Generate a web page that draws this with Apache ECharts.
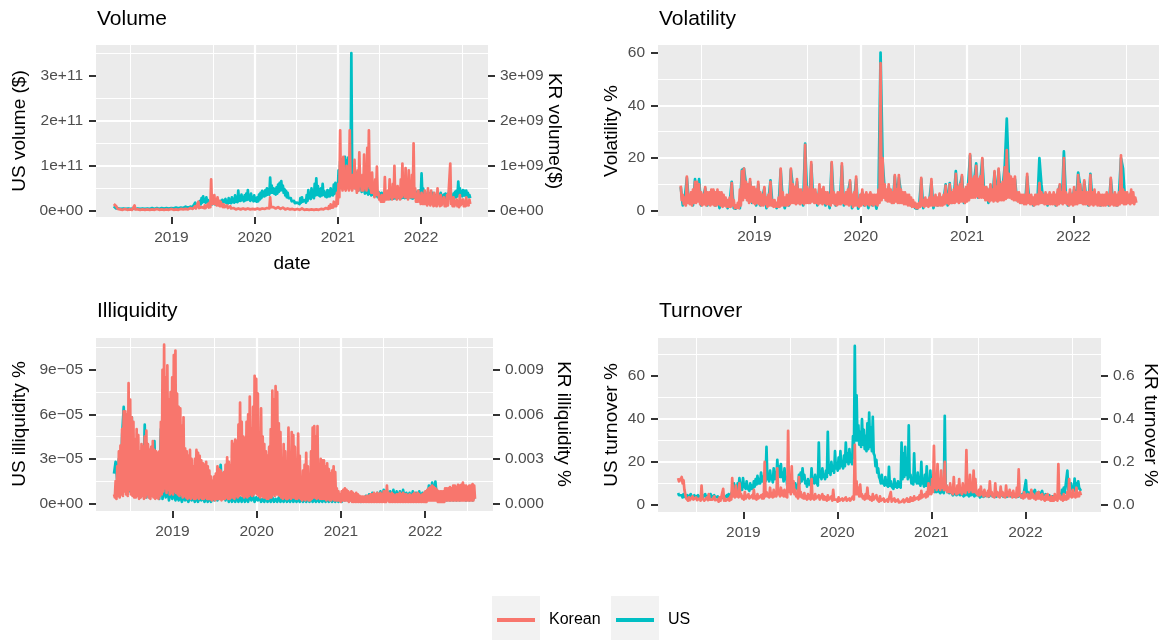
<!DOCTYPE html>
<html><head><meta charset="utf-8">
<script src="https://cdn.jsdelivr.net/npm/echarts@6/dist/echarts.min.js"></script>
<style>html,body{margin:0;padding:0;background:#fff}#c{width:1159px;height:640px}</style>
</head><body><div id="c"></div>
<script>
// ---- time grid: observations start on startDate; weekly (7 d) or half-weekly (3.5 d) ----
const startDate = '2018-04-23';
const weekStep = 7, halfWeekStep = 3.5;
const yearTicks = [2019, 2020, 2021, 2022];
const seriesNames = ['Korean', 'US'];

// ---- Volume ($ billions) : half-weekly ----
const usVolume_bn_half = [
10,8, 6,5, 5,4, 5,4, 5,4, 5,4, 5,4, 5,4, 5,4, 5,4, 5,4, 5,4, 5,4,
5,4, 5,4, 5,4, 5,4, 5,4, 5,4, 5,4, 5,4, 5,4, 5,4, 5,4, 6,4.5, 5,4,
5,4, 6,4.5, 5,4, 6,4.5, 6,4.5, 6,5, 6,4.5, 6,5, 6,5, 6,5, 6,5, 7,5.5, 7,5.5,
7,5.5, 7,5.5, 8,6, 7,5.5, 8,6, 8,6.5, 9,7, 8,6.5, 10,7, 9,7, 10,7.5, 12,8, 18,10,
14,10, 16,12, 22,14, 28,18, 32,20, 26,18, 30,18, 24,16, 20,14, 22,14, 18,13, 20,14, 22,15,
20,14, 18,13, 22,15, 24,17, 20,15, 26,17, 22,16, 28,18, 24,17, 30,19, 26,18, 34,20, 30,19,
45,22, 32,22, 36,24, 30,21, 34,23, 38,24, 46,25, 32,22, 38,24, 30,21, 34,22, 28,20, 30,21,
36,25, 40,28, 44,32, 42,32, 46,34, 50,36, 48,36, 74,40, 56,40, 50,38, 48,36, 52,38, 58,42,
62,45, 66,46, 56,40, 48,34, 44,30, 40,28, 32,24, 28,21, 24,18, 22,17, 20,15, 18,14, 20,15,
28,18, 30,20, 22,16, 24,18, 35,22, 46,28, 38,26, 50,30, 42,28, 60,34, 72,36, 55,34, 48,32,
50,34, 60,36, 44,32, 40,30, 46,32, 44,32, 50,35, 46,34, 58,38, 62,40, 60,42, 90,55, 110,70,
115,80, 108,78, 120,85, 112,80, 118,80, 105,75, 351,90, 90,60, 70,50, 85,55, 60,45, 75,50, 55,42,
60,44, 50,38, 55,40, 48,36, 52,38, 45,34, 50,36, 42,32, 45,34, 40,30, 42,32, 38,29, 40,30,
35,27, 40,29, 36,27, 38,28, 34,26, 40,29, 36,27, 38,28, 35,26, 40,29, 36,27, 38,28, 40,29,
38,28, 40,29, 36,27, 42,30, 38,28, 36,27, 40,29, 38,28, 42,30, 44,32, 46,33, 83,40, 50,34,
40,29, 36,27, 42,30, 38,28, 35,26, 40,28, 36,27, 34,25, 38,28, 36,26, 40,28, 34,25, 36,26,
38,27, 35,26, 40,28, 36,27, 34,25, 38,28, 42,30, 45,32, 65,38, 50,36, 44,32, 46,34, 44,33,
45,33, 40,30, 35,28];
const krVolume_bn_half = [
0.15,0.12, 0.16,0.10, 0.06,0.04, 0.03,0.02, 0.03,0.02, 0.03,0.02, 0.03,0.02, 0.04,0.02, 0.03,0.02, 0.03,0.02, 0.03,0.02, 0.03,0.02, 0.03,0.02,
0.12,0.03, 0.04,0.02, 0.03,0.02, 0.03,0.02, 0.04,0.02, 0.03,0.02, 0.03,0.02, 0.04,0.02, 0.03,0.02, 0.03,0.02, 0.04,0.02, 0.03,0.02, 0.03,0.02,
0.03,0.02, 0.04,0.02, 0.03,0.02, 0.05,0.02, 0.03,0.02, 0.04,0.02, 0.03,0.02, 0.03,0.02, 0.05,0.02, 0.03,0.02, 0.04,0.02, 0.03,0.02, 0.04,0.02,
0.03,0.02, 0.04,0.02, 0.05,0.03, 0.04,0.02, 0.04,0.03, 0.05,0.03, 0.04,0.03, 0.06,0.03, 0.05,0.03, 0.06,0.04, 0.08,0.04, 0.06,0.04, 0.10,0.05,
0.08,0.05, 0.20,0.06, 0.09,0.05, 0.08,0.05, 0.10,0.06, 0.12,0.06, 0.10,0.06, 0.15,0.07, 0.18,0.08, 0.70,0.15, 0.30,0.15, 0.35,0.15, 0.25,0.12,
0.30,0.12, 0.22,0.10, 0.20,0.10, 0.15,0.08, 0.14,0.08, 0.10,0.06, 0.12,0.06, 0.08,0.05, 0.10,0.05, 0.07,0.04, 0.06,0.04, 0.05,0.03, 0.06,0.03,
0.05,0.03, 0.06,0.03, 0.04,0.03, 0.05,0.03, 0.04,0.03, 0.06,0.03, 0.05,0.03, 0.04,0.03, 0.05,0.03, 0.04,0.03, 0.05,0.03, 0.04,0.03, 0.05,0.03,
0.05,0.03, 0.06,0.03, 0.05,0.03, 0.07,0.04, 0.08,0.04, 0.06,0.04, 0.10,0.05, 0.30,0.08, 0.12,0.06, 0.08,0.05, 0.10,0.05, 0.07,0.04, 0.08,0.04,
0.07,0.04, 0.06,0.04, 0.07,0.04, 0.05,0.03, 0.06,0.03, 0.05,0.03, 0.04,0.03, 0.05,0.03, 0.04,0.02, 0.04,0.02, 0.05,0.03, 0.04,0.02, 0.04,0.02,
0.04,0.02, 0.05,0.02, 0.04,0.02, 0.04,0.02, 0.03,0.02, 0.04,0.02, 0.04,0.02, 0.03,0.02, 0.04,0.02, 0.04,0.02, 0.03,0.02, 0.04,0.02, 0.04,0.02,
0.04,0.02, 0.05,0.03, 0.05,0.03, 0.06,0.03, 0.08,0.04, 0.10,0.05, 0.14,0.07, 0.12,0.07, 0.20,0.10, 0.16,0.10, 0.40,0.15, 0.60,0.30, 1.79,0.50,
0.60,0.45, 1.20,0.55, 0.55,0.45, 1.00,0.50, 0.70,0.45, 1.79,0.50, 0.60,0.45, 0.80,0.50, 1.13,0.50, 0.55,0.40, 0.90,0.45, 1.30,0.55, 0.70,0.45,
0.80,0.45, 1.25,0.50, 0.70,0.45, 1.40,0.55, 1.79,0.50, 0.60,0.40, 0.85,0.40, 0.50,0.30, 0.70,0.35, 0.98,0.35, 0.40,0.25, 0.30,0.20, 0.35,0.20,
0.30,0.20, 0.75,0.25, 0.40,0.25, 0.45,0.25, 0.70,0.30, 0.50,0.25, 0.60,0.30, 1.00,0.30, 0.45,0.25, 0.55,0.30, 0.50,0.25, 0.70,0.30, 1.05,0.35,
0.60,0.30, 0.95,0.30, 0.50,0.25, 0.90,0.30, 0.60,0.30, 0.80,0.30, 1.50,0.30, 0.50,0.20, 0.35,0.20, 0.45,0.20, 0.30,0.15, 0.40,0.15, 0.35,0.15,
0.45,0.15, 0.25,0.12, 0.50,0.15, 0.30,0.12, 0.45,0.15, 0.20,0.10, 0.40,0.12, 0.25,0.10, 0.50,0.15, 0.20,0.10, 0.35,0.12, 0.15,0.08, 0.30,0.10,
0.20,0.10, 0.35,0.12, 0.15,0.08, 1.05,0.15, 0.20,0.10, 0.30,0.10, 0.12,0.08, 0.25,0.10, 0.15,0.08, 0.35,0.12, 0.12,0.08, 0.25,0.10, 0.15,0.10,
0.30,0.12, 0.20,0.12, 0.25,0.15];

// ---- Volatility (%) : US weekly, Korean half-weekly ----
const usVolatility = [
9,2,5,12.5,3,6,2,12,4,12,2,5,8.5,
2,6,3,7.5,2,6,1,6,2,4,1,3,11,
1,0.8,2,1,15.5,16,10,4,11,3,8,2,10,
2,5,8.5,1,4,11.5,2,3,1,2,15.5,4,1,
4,2,15.5,9,5,11,3,7,2,25.5,5,3,17.5,
4,7,2,9,5,8,2,6,1,18,4,2,6,
3,17,2,5,7,11,1,4,12,0.8,3,7,2,
5,1,6,2,4,0.8,7,60,19,8,4,9,5,
3,13,5,12.5,7,4,6,3,5,2,3,1,0.8,
2,12,1,3,2,4,11,1,5,2,6,3,4,
10,2,10.5,3,5,15,4,9.5,13,3,6,9.5,21,
7,11.5,18,5,11,19.5,6,8.5,3,9.5,5,14.5,4,
15.5,7,9,17,35,13.5,11,5,12,4,6,3,5,
3,13,4,5,2,4,3,20,10,3,6,2,5,
4,6,2,7,9.5,3,22.5,5,2,7,3,8,4,
14.5,9.5,3,11,5,2,14,4,7,3,6,2,4,
3,6,2,12,4,5,2,6,20,16,4,6,3,
7,4,3];
const krVolatility_half = [
9.5,4, 6,2.5, 5,2, 13,3, 6,2.5, 7,2, 8,3, 11,3, 11,3.5, 10,2.5, 7,2, 6,2.5, 9,2,
7,2.5, 7,2, 8,2.5, 8,2, 7,2, 8,2.5, 7,2, 7,1.5, 6,2, 5,1.5, 4,1.5, 5,1.5, 10.5,2,
4,1, 2,1, 3,1, 8,2, 15,4, 16,5, 11,4, 10,3, 12,3.5, 9,3, 9,2.5, 8,3, 11,2.5,
7,2, 6,2, 9,2.5, 5,1.5, 6,2, 11,2, 4,1.5, 4,1.5, 3,1.5, 5,1.5, 16,2, 7,2, 5,2,
6,2, 6,2.5, 16,3, 10,3, 9,2.5, 12,3, 8,2.5, 8,3, 7,2.5, 25,3, 9,3, 8,3, 18.5,3.5,
8,3, 8,3, 6,2.5, 10,3, 8,2.5, 9,3, 7,2.5, 7,2.5, 6,2, 18.5,3, 7,2.5, 6,2, 7,2.5,
7,2.5, 18,3, 6,2.5, 7,2.5, 8,2, 11.5,2.5, 6,1.5, 7,2, 13,2, 4,1.5, 6,2, 8,2.5, 6,2,
7,2.5, 6,2, 7,2.5, 6,2, 6,2.5, 6,2, 8,3, 56,4, 20,5, 10,4, 8,3.5, 10,3.5, 8,3,
7,3, 13.5,3.5, 8,3, 13.5,3, 8,3, 7,2.5, 7,2.5, 6,2, 6,2, 5,1.5, 4,1.5, 3,1, 2.5,1,
3,1.5, 12.5,2, 4,1.5, 5,2, 4,1.5, 5,2, 12,2, 5,2, 6,2, 5,2, 6.5,2, 5,2, 6,2.5,
9.5,3, 6,2.5, 10,3, 7,3, 8,3, 14,3.5, 9,3, 10,3.5, 13.5,3.5, 8,3, 9,3.5, 10,4, 21.5,5,
12,5, 13,5, 17,5.5, 12,5, 13,5, 20,5, 9,4, 9,4, 8,3.5, 10,4, 8,3.5, 15,4, 9,3.5,
16,4, 10,4, 11,4, 16.5,4.5, 23,5, 14,5, 13,4.5, 12,4, 13,4, 7,3.5, 7,3, 6,3, 6,2.5,
6,2.5, 14,3, 6,2.5, 6,2.5, 5,2, 6,2.5, 6,2.5, 10.5,3, 7,3, 6,2.5, 7,2.5, 6,2.5, 7,2.5,
6,2.5, 7,2.5, 6,2, 8,2.5, 10,3, 7,2.5, 20,3, 7,2.5, 6,2, 8,2.5, 6,2, 9,2.5, 7,2.5,
13.5,3, 10,3, 7,2.5, 11.5,2.5, 7,2.5, 7,2, 13.5,2.5, 7,2, 8,2.5, 6,2, 7,2, 6,2, 6,2,
6,2, 7,2.5, 6,2, 12.5,2.5, 6,2, 7,2, 6,2, 7,2.5, 21,3, 8,2.5, 7,2.5, 7,3, 6,2.5,
8,3, 7,2.5, 5,3];

// ---- Illiquidity : US weekly in 1e-5 %, Korean half-weekly in 1e-3 % ----
const usIlliq_e5 = [
2.0,2.8,1.5,3.0,1.0,4.5,6.5,6.6,1.0,5.0,0.8,5.8,0.6,
3.0,0.5,3.5,0.4,3.0,0.5,5.3,0.4,2.5,0.4,3.0,0.5,4.2,
0.4,2.5,0.3,5.0,0.3,1.2,0.4,1.0,0.2,1.0,0.3,0.8,0.2,
0.6,0.2,0.5,0.1,0.5,0.2,0.4,0.1,0.5,0.2,0.4,0.1,0.5,
0.1,0.4,0.2,0.4,0.1,0.5,0.1,0.4,0.1,0.5,0.2,1.2,0.2,
1.5,2.6,0.3,1.0,0.2,0.8,0.1,0.5,0.1,0.4,0.1,0.5,0.1,
0.4,0.1,0.5,0.1,0.4,0.1,0.6,0.2,0.5,0.1,0.4,0.2,0.4,
0.1,0.3,0.1,0.4,0.1,0.3,0.1,0.4,0.1,0.3,0.1,0.4,0.1,
0.3,0.1,0.4,0.1,0.3,0.1,0.4,0.1,0.3,0.1,0.3,0.1,0.3,
0.1,0.3,0.1,0.4,0.1,0.3,0.1,0.3,0.1,0.3,0.1,0.3,0.1,
0.3,0.1,0.3,0.1,0.3,0.1,0.3,0.1,0.3,0.1,0.4,0.1,0.5,
0.2,0.6,0.2,0.6,0.2,0.5,0.2,0.5,0.2,0.4,0.1,0.4,0.2,
0.5,0.2,0.6,0.2,0.7,0.8,0.3,0.7,0.3,0.8,0.3,0.9,0.3,
0.9,0.3,0.8,0.3,0.9,0.3,0.8,0.3,0.8,0.3,0.9,0.3,0.7,
0.3,0.7,0.2,0.8,0.3,0.7,0.2,0.8,0.3,0.7,0.3,0.8,0.3,
1.2,0.4,1.4,0.4,1.46,0.3,0.6,0.2,0.6,0.2,0.7,0.2,0.7,
0.2,0.8,0.2,0.9,0.2,0.8,0.2,0.9,0.3,1.0,0.2,0.9,0.2,
0.8,0.2,0.4];
const krIlliq_e3_half = [
0.6,0.4, 1.5,0.3, 2.5,0.5, 3.5,0.4, 3.9,0.6, 5.0,0.5, 6.2,0.8, 6.2,0.6, 6.0,0.5, 8.1,0.9, 7.0,0.6, 5.8,0.5, 5.5,0.4,
4.3,0.4, 5.0,0.5, 4.6,0.3, 3.5,0.4, 4.0,0.5, 3.8,0.3, 4.5,0.4, 4.9,0.6, 4.0,0.4, 3.6,0.3, 3.8,0.5, 4.2,0.4, 3.6,0.3,
3.5,0.4, 3.4,0.3, 3.5,0.5, 5.5,0.6, 9.0,0.8, 10.7,1.0, 8.5,0.7, 9.3,0.9, 7.0,0.6, 7.5,0.7, 8.5,0.6, 10.0,0.8, 10.3,0.7,
7.4,0.6, 6.5,0.5, 6.4,0.6, 5.2,0.4, 5.8,0.5, 3.7,0.4, 3.5,0.3, 3.2,0.4, 3.6,0.3, 3.0,0.4, 2.5,0.3, 3.0,0.3, 3.6,0.4,
3.4,0.3, 3.2,0.4, 2.9,0.3, 2.7,0.3, 2.6,0.4, 2.8,0.3, 2.5,0.3, 2.2,0.3, 1.8,0.2, 1.5,0.3, 1.8,0.2, 2.0,0.3, 2.5,0.3,
2.3,0.3, 2.2,0.2, 2.0,0.3, 2.1,0.3, 2.6,0.4, 3.1,0.3, 2.8,0.3, 2.6,0.4, 4.2,0.4, 4.0,0.3, 4.3,0.5, 4.2,0.4, 5.3,0.5,
6.8,0.6, 5.5,0.5, 4.5,0.4, 4.4,0.5, 5.5,0.4, 6.0,0.5, 7.2,0.6, 5.0,0.5, 6.5,0.6, 8.6,0.7, 8.4,0.6, 7.4,0.5, 4.4,0.4,
6.4,0.5, 4.5,0.4, 4.0,0.4, 3.5,0.3, 3.2,0.3, 3.8,0.4, 5.0,0.4, 7.6,0.6, 7.0,0.5, 7.9,0.6, 7.5,0.6, 5.4,0.5, 4.8,0.4,
3.0,0.3, 4.0,0.4, 3.5,0.3, 2.0,0.3, 5.1,0.4, 3.2,0.3, 4.8,0.4, 4.6,0.4, 3.8,0.3, 3.0,0.3, 4.7,0.4, 3.2,0.3, 1.5,0.2,
2.2,0.3, 2.6,0.2, 3.4,0.3, 2.5,0.2, 1.6,0.2, 3.5,0.3, 5.1,0.4, 5.2,0.4, 4.5,0.3, 5.2,0.4, 2.6,0.3, 3.0,0.3, 2.9,0.3,
2.9,0.3, 2.5,0.2, 2.7,0.3, 2.3,0.2, 2.0,0.2, 2.2,0.3, 2.5,0.2, 2.1,0.2, 1.0,0.2, 0.8,0.2, 0.6,0.1, 0.8,0.2, 0.9,0.2,
1.0,0.2, 0.9,0.2, 0.8,0.1, 0.7,0.2, 0.8,0.1, 0.7,0.1, 0.6,0.1, 0.7,0.1, 0.6,0.1, 0.5,0.1, 0.45,0.1, 0.45,0.1, 0.45,0.1,
0.45,0.1, 0.5,0.1, 0.5,0.1, 0.6,0.1, 0.6,0.1, 0.7,0.1, 0.6,0.1, 0.7,0.1, 0.6,0.1, 0.7,0.1, 0.6,0.1, 0.8,0.1, 0.8,0.1,
1.2,0.2, 0.7,0.1, 0.6,0.1, 0.7,0.1, 0.6,0.1, 0.5,0.1, 0.6,0.1, 0.6,0.1, 0.7,0.1, 0.6,0.1, 0.7,0.1, 0.6,0.1, 0.6,0.1,
0.5,0.1, 0.6,0.1, 0.5,0.1, 0.6,0.1, 0.7,0.1, 0.6,0.1, 0.7,0.1, 0.6,0.1, 0.5,0.1, 0.6,0.1, 0.7,0.1, 0.8,0.1, 0.9,0.2,
1.0,0.2, 1.1,0.2, 1.2,0.2, 1.1,0.2, 1.0,0.2, 0.9,0.1, 0.8,0.1, 0.8,0.1, 0.8,0.1, 0.8,0.1, 1.0,0.2, 1.0,0.2, 1.0,0.2,
1.1,0.2, 1.0,0.2, 1.2,0.2, 1.2,0.2, 1.1,0.2, 1.25,0.2, 1.2,0.2, 1.25,0.2, 1.4,0.2, 1.2,0.2, 1.2,0.2, 1.1,0.2, 1.2,0.2,
1.2,0.2, 1.3,0.2, 1.2,0.3];

// ---- Turnover : US half-weekly in %, Korean half-weekly in 1e-2 % ----
const usTurnover_half = [
5.5,4.5, 5,3.8, 4.5,3.5, 5,3.8, 4,3.2, 4.5,3.4, 4,3.2, 5,3.6, 4,3.2, 4.5,3.4, 3.5,2.8, 4.5,3.3, 4,3.2,
4.5,3.4, 4,3.2, 5,3.6, 4,3.2, 4.5,3.4, 5,3.6, 4,3.1, 4.5,3.3, 3.5,2.8, 4,3, 3.5,2.6, 3,2.4, 4,3,
3.5,2.8, 4.5,3.4, 5,3.8, 4.5,4, 6,5, 10,7, 8,6.5, 10,7.5, 12.5,9, 9,7, 12.5,9, 9,7.5, 11,8,
8,6.5, 10,7.5, 9,7.5, 11,8.5, 12,9.5, 13.5,10, 12,10, 15,11, 13,10.5, 14,11, 27,12, 14,11, 16,12,
13,10.5, 17,12, 15,12, 21,14, 18,13, 19,13, 15,11, 17,12, 13,9, 12,8, 9,6.5, 10,7, 8.5,6.5,
10,7.5, 9,7, 14,10, 15,11, 17,12, 14,10, 11,8.5, 12,9.5, 11,9, 17,11, 12,10, 14,11, 11,9,
29,13, 15,12, 17,13, 14,12, 16,13, 34,15, 17,14, 20,16, 18,15, 25,17, 19,16, 22,17, 25,18,
20,17, 23,18, 29,20, 24,19, 26,20, 23,19, 32,22, 74,30, 51,30, 37,28, 34,27, 40,28, 35,26,
32,25, 38,26, 43,27, 36,25, 41,24, 23,18, 21,15, 17,13, 12,10, 14,10, 11,9, 13,9.5, 10,8.5,
17.7,9, 11,8.5, 9,7.5, 12,8.5, 10,8, 11,8.5, 9.5,8, 29,12, 24,13, 27,14, 20,12, 37,13, 14,10,
12,9.5, 24,11, 13,10, 15,10, 12,9, 20,10, 11,8.5, 14,9, 18,9, 10,7.5, 16,8, 9,6.5, 8,6,
8,6, 9,6.5, 7,5.5, 8,6, 7,5.5, 41.5,7, 9,6, 7,5.5, 8,6, 6,4.5, 7,5, 6,4.5, 7,5,
6,4.5, 7,5, 5,4, 6,4.5, 7,5, 5,4, 6,4.5, 8,5, 5,4, 6,4.5, 5,4, 4.5,3.5, 5.5,4,
5,3.8, 6,4.2, 4.5,3.5, 5,3.8, 4,3.2, 5.5,4, 4.5,3.5, 5,3.8, 4,3.2, 5.5,4, 4.5,3.5, 5,3.8, 4,3.2,
5,3.8, 4.5,3.5, 5.5,4, 4,3.2, 5,3.8, 4.5,3.5, 5,3.8, 4,3.2, 4.5,3.5, 5,3.8, 4,3.5, 11.5,5, 6,4.5,
5,4, 6.5,4.5, 5,4, 7,4.5, 5.5,4, 6,4.2, 5,3.8, 6.5,4.2, 4.5,3.5, 5,3.6, 4,3.2, 4.5,3.4, 3.5,2.8,
4,3, 3.5,2.8, 3.5,2.8, 4.5,3.4, 5,3.8, 7,5, 8,5.5, 6,5, 16,7, 9,7, 10,7.5, 8,6.5, 12.3,8,
10,7.5, 11,8, 8,6.5];
const krTurnover_e2_half = [
12.5,11, 11,12, 13,10, 11.5,7, 5,3, 3,2, 3.5,2.2, 2.5,2, 4,2.5, 3,2, 3.5,2.2, 2.5,1.8, 3,2,
9,3, 3,2, 2.5,1.8, 3.5,2.2, 5,2.5, 3,2, 2.5,1.8, 4,2.2, 3,2, 2.5,1.5, 3.5,2, 2.5,1.5, 7.5,2,
3,2, 2.5,1.5, 3,2, 4,2.5, 12.5,4, 5,3.5, 9,4, 6,3.5, 10,4, 5,3, 4,2.5, 6,3, 3.5,2.5,
5,3, 3.5,2.5, 4.5,3, 7,3, 4,2.5, 5,3, 3.5,2.5, 4.5,3, 5,3, 20,4, 6,4, 5,3.5, 8,4,
5.5,3.5, 7,4, 6,4, 17,5, 6,4, 8,4.5, 6.5,4, 7,4, 5.5,3.5, 34.5,6, 10,5, 18,6, 11,5,
7,4, 5,3, 13,4, 6,3.5, 4.5,3, 5.5,3, 4,2.5, 5,3, 4.5,2.5, 12,3, 4,2.5, 5,3, 3.5,2.5,
4.5,2.5, 3,2, 5,2.5, 4,2.5, 3.5,2, 4.5,2.5, 3,2, 4,2, 7,2.5, 3,2, 2.5,1.5, 3.5,2, 2.5,1.5,
3,2, 2.5,1.5, 3.5,2, 2,1.5, 3,2, 2.5,1.5, 4,2.5, 28,5, 11,5, 8,4, 9.5,4, 5,3, 4,2.5,
5,3, 8,3, 4,2.5, 3.5,2, 5,2.5, 3,2, 4.5,2.5, 2.5,1.5, 4,2, 2,1.2, 3,1.5, 2,1.2, 2.5,1.5,
2,1.2, 6,1.5, 2,1.2, 3,1.5, 1.5,1, 2.5,1.2, 2,1, 1.5,0.8, 2.5,1.2, 2,1.2, 3,1.5, 2.5,1.5, 3.5,2,
3,2, 4,2.5, 3,2, 3.5,2.5, 4.5,3, 6.5,3.5, 4,3, 5,3.5, 6,4, 10,5, 8,5, 12,6, 27.5,8,
12,7, 19,8, 10,7, 16,8, 11,7, 20,7, 9,6, 8,6, 10,6, 6.5,5, 13,6, 7,5, 9,5.5,
12,6, 7,5, 10,6, 8,5.5, 25.5,7, 10,6, 14,7, 9,6, 16,6, 12,5.5, 6,4.5, 7,4.5, 8.5,5,
6,4, 7,4.5, 5.5,4, 6.5,4, 11,5, 6,4, 5,3.5, 10,4.5, 6,4, 5.5,3.5, 8.5,4.5, 6,4, 5,3.5,
9,4.5, 6,4, 7,4.5, 5.5,3.5, 6.5,4, 5,3.5, 8,4, 16.5,5, 5,3.5, 4.5,3, 6,3.5, 4,3, 5,3,
4.5,3, 7,3.5, 5,3, 4,2.5, 5.5,3, 6,3, 4.5,2.5, 5,3, 3.5,2, 4.5,2.5, 5,2.5, 3.5,2, 4,2,
3.5,2, 5,2.5, 4,2, 19,3, 4.5,2.5, 3.5,2, 5,2.5, 4,2.5, 6,3, 12,4, 5.5,3.5, 7,4, 5,3.5,
8,4, 5.5,4, 6,4.5];

// ---- tick values ----
const volTicksUS = [0, 1e11, 2e11, 3e11];
const volTicksKR = [0, 1e9, 2e9, 3e9];
const volatilityTicks = [0, 20, 40, 60];
const illiqTicksUS = [0, 3e-5, 6e-5, 9e-5];
const illiqTicksKR = [0, 0.003, 0.006, 0.009];
const turnTicksUS = [0, 20, 40, 60];
const turnTicksKR = [0, 0.2, 0.4, 0.6];

// ---------------------------------------------------------------
[usVolatility, usIlliq_e5].forEach((a, k) => { if (a.length !== 224) throw new Error('weekly length mismatch ' + k + ': ' + a.length); });
[usVolume_bn_half, krVolume_bn_half, krVolatility_half, krIlliq_e3_half, usTurnover_half, krTurnover_e2_half].forEach((a, k) => { if (a.length !== 448) throw new Error('half length mismatch ' + k + ': ' + a.length); });

function decimalYear(ms) {
  const d = new Date(ms); const y = d.getUTCFullYear();
  const a = Date.UTC(y, 0, 1), b = Date.UTC(y + 1, 0, 1);
  return y + (ms - a) / (b - a);
}
const t0 = Date.parse(startDate + 'T00:00:00Z');
const pairs = (arr, unit, step) => arr.map((v, i) => [decimalYear(t0 + i * step * 86400000), v * unit]);

const X_MIN = 2018.093, X_MAX = 2022.804;
const FONT = '"Liberation Sans", Arial, Helvetica, sans-serif';
const KR = '#F8766D', US = '#00BFC4';
const TICK_COLOR = '#333333', LABEL_COLOR = '#4D4D4D';
const LINE_W = 2.7;

function sci(v) {
  if (v === 0) return '0e+00';
  const e = Math.floor(Math.log10(Math.abs(v)) + 1e-9);
  const m = Math.round(v / Math.pow(10, e));
  return m + 'e' + (e < 0 ? '\u2212' : '+') + String(Math.abs(e)).padStart(2, '0');
}

const grids = [
  { left: 96, top: 45, width: 392, height: 172 },
  { left: 658, top: 45, width: 505, height: 171 },
  { left: 96, top: 338, width: 397, height: 173 },
  { left: 658, top: 338, width: 443, height: 174 }
].map(g => Object.assign({ show: true, backgroundColor: '#EBEBEB', borderWidth: 0, containLabel: false }, g));

const tickStyle = { show: true, inside: false, length: 7, lineStyle: { color: TICK_COLOR, width: 2 } };
const labelStyle = { color: LABEL_COLOR, fontSize: 15.5, fontFamily: FONT };

function xAxisFor(g) {
  return {
    type: 'value', gridIndex: g, min: X_MIN, max: X_MAX,
    axisLine: { show: false, onZero: false },
    axisTick: Object.assign({ customValues: yearTicks }, tickStyle),
    axisLabel: Object.assign({ customValues: yearTicks, margin: 13, formatter: v => String(Math.round(v)) }, labelStyle),
    splitLine: { show: true, showMinLine: false, showMaxLine: false, lineStyle: { color: '#FFFFFF', width: 2.2 } },
    minorTick: { show: false, splitNumber: 2 },
    minorSplitLine: { show: true, lineStyle: { color: '#FFFFFF', width: 1.1 } }
  };
}
function yAxisFor(g, min, max, splitNumber, ticks, fmt, right) {
  return {
    type: 'value', gridIndex: g, min: min, max: max, splitNumber: splitNumber,
    position: right ? 'right' : 'left',
    axisLine: { show: false, onZero: false },
    axisTick: Object.assign({ customValues: ticks }, tickStyle),
    axisLabel: Object.assign({ customValues: ticks, margin: right ? 12 : 13, formatter: fmt }, labelStyle),
    splitLine: right ? { show: false } : { show: true, showMinLine: false, showMaxLine: false, lineStyle: { color: '#FFFFFF', width: 2.2 } },
    minorTick: { show: false, splitNumber: 2 },
    minorSplitLine: { show: !right, lineStyle: { color: '#FFFFFF', width: 1.1 } }
  };
}

const yAxes = [
  yAxisFor(0, -1.4e10, 3.69e11, 4, volTicksUS, sci, false),
  yAxisFor(0, -1.4e8, 3.69e9, 4, volTicksKR, sci, true),
  yAxisFor(1, -2.0, 62.9, 3, volatilityTicks, v => String(v), false),
  yAxisFor(2, -0.52e-5, 11.15e-5, 4, illiqTicksUS, sci, false),
  yAxisFor(2, -0.00052, 0.01115, 4, illiqTicksKR, v => v.toFixed(3), true),
  yAxisFor(3, -3.3, 77.7, 4, turnTicksUS, v => String(v), false),
  yAxisFor(3, -0.033, 0.777, 4, turnTicksKR, v => v.toFixed(1), true)
];

function line(name, color, xi, yi, data) {
  return { type: 'line', name: name, xAxisIndex: xi, yAxisIndex: yi, data: data,
    showSymbol: false, symbol: 'none', sampling: null, animation: false,
    lineStyle: { color: color, width: LINE_W, join: 'round' }, itemStyle: { color: color } };
}
const series = [
  line('US', US, 0, 0, pairs(usVolume_bn_half, 1e9, halfWeekStep)),
  line('Korean', KR, 0, 1, pairs(krVolume_bn_half, 1e9, halfWeekStep)),
  line('US', US, 1, 2, pairs(usVolatility, 1, weekStep)),
  line('Korean', KR, 1, 2, pairs(krVolatility_half, 1, halfWeekStep)),
  line('US', US, 2, 3, pairs(usIlliq_e5, 1e-5, weekStep)),
  line('Korean', KR, 2, 4, pairs(krIlliq_e3_half, 1e-3, halfWeekStep)),
  line('US', US, 3, 5, pairs(usTurnover_half, 1, halfWeekStep)),
  line('Korean', KR, 3, 6, pairs(krTurnover_e2_half, 1e-2, halfWeekStep))
];

function txt(text, x, y, size, opts) {
  opts = opts || {};
  return { type: 'text', x: x, y: y, rotation: opts.rot || 0, silent: true,
    style: { text: text, x: 0, y: 0, fill: opts.color || '#000000', font: size + 'px ' + FONT,
      textAlign: opts.align || 'center', textVerticalAlign: 'middle' } };
}
const R90 = Math.PI / 2;
const graphics = [
  txt('Volume', 97, 19, 21, { align: 'left' }),
  txt('Volatility', 659, 19, 21, { align: 'left' }),
  txt('Illiquidity', 97, 311, 21, { align: 'left' }),
  txt('Turnover', 659, 311, 21, { align: 'left' }),
  txt('US volume ($)', 20, 131, 19, { rot: R90 }),
  txt('KR volume($)', 554, 131, 19, { rot: -R90 }),
  txt('date', 292, 264, 19),
  txt('Volatility %', 612, 131, 19, { rot: R90 }),
  txt('US illiquidity %', 20, 424, 19, { rot: R90 }),
  txt('KR illiquidity %', 563, 424, 19, { rot: -R90 }),
  txt('US turnover %', 612, 425, 19, { rot: R90 }),
  txt('KR turnover %', 1150, 425, 19, { rot: -R90 }),
  // legend
  { type: 'rect', shape: { x: 492, y: 596, width: 48, height: 44 }, style: { fill: '#F2F2F2' }, silent: true },
  { type: 'line', shape: { x1: 497, y1: 620, x2: 535, y2: 620 }, style: { stroke: KR, lineWidth: 4 }, silent: true },
  txt(seriesNames[0], 549, 620, 16, { align: 'left' }),
  { type: 'rect', shape: { x: 611, y: 596, width: 48, height: 44 }, style: { fill: '#F2F2F2' }, silent: true },
  { type: 'line', shape: { x1: 616, y1: 620, x2: 654, y2: 620 }, style: { stroke: US, lineWidth: 4 }, silent: true },
  txt(seriesNames[1], 668, 620, 16, { align: 'left' })
];

const chart = echarts.init(document.getElementById('c'), null, { renderer: 'canvas' });
chart.setOption({
  animation: false,
  backgroundColor: '#FFFFFF',
  grid: grids,
  xAxis: [0, 1, 2, 3].map(xAxisFor),
  yAxis: yAxes,
  series: series,
  graphic: graphics
});
</script></body></html>
